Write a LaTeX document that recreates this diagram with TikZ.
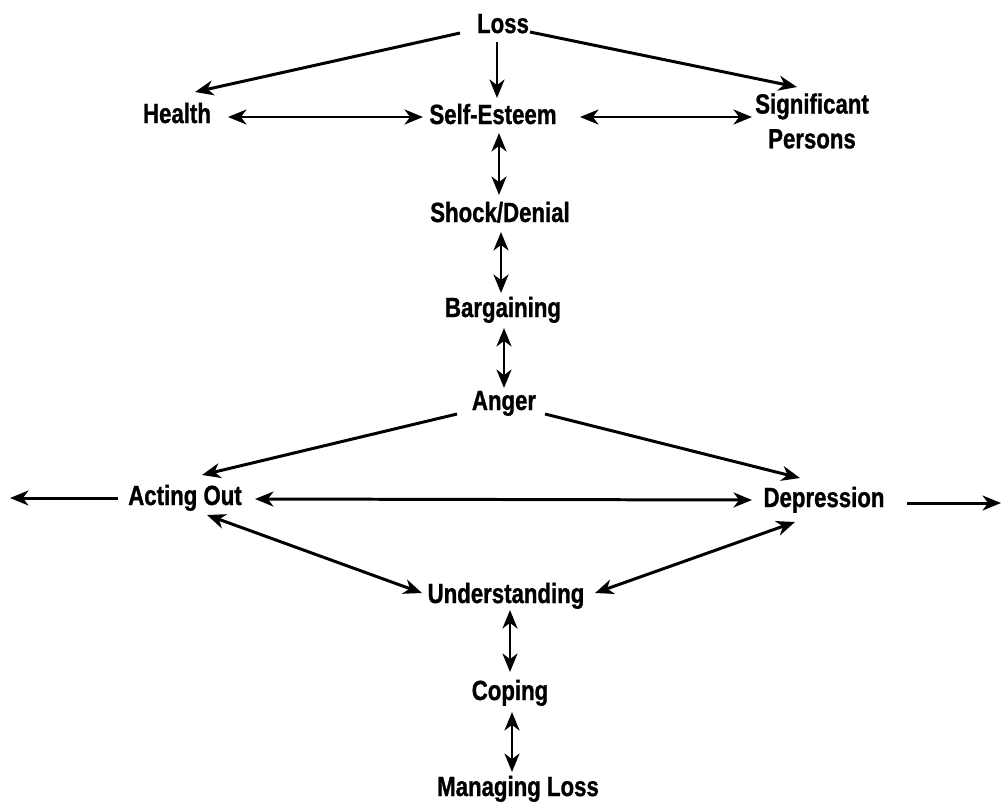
\documentclass[tikz,border=0pt]{standalone}
\usepackage{fontspec}
\setmainfont{Liberation Sans}[FakeStretch=0.8, BoldFeatures={FakeBold=1}]
\usetikzlibrary{arrows.meta,calc}
\begin{document}
\begin{tikzpicture}[x=0.02cm,y=-0.02cm,
  lbl/.style={font=\fontsize{15.8}{19.8}\selectfont\bfseries, inner sep=0pt, anchor=base},
  arr/.style={line width=1.7pt, -{Stealth[length=10.5pt,width=8.5pt,inset=3.2pt]}},
  darr/.style={line width=1.7pt, {Stealth[length=10.5pt,width=8.5pt,inset=3.2pt]}-{Stealth[length=10.5pt,width=8.5pt,inset=3.2pt]}}]
\useasboundingbox[fill=white] (0,0) rectangle (1002,802);
\node[lbl] (loss) at (503,33) {Loss};
\node[lbl] (health) at (177,123) {Health};
\node[lbl] (self) at (493,124) {Self-Esteem};
\node[lbl, anchor=center, align=center] (sig) at (812,121) {Significant\\Persons};
\node[lbl] (shock) at (500,222) {Shock/Denial};
\node[lbl] (barg) at (503,317) {Bargaining};
\node[lbl] (anger) at (504,410) {Anger};
\node[lbl] (act) at (185,505) {Acting Out};
\node[lbl] (dep) at (824,507) {Depression};
\node[lbl] (und) at (506,603) {Understanding};
\node[lbl] (cop) at (510,700) {Coping};
\node[lbl] (man) at (518,796) {Managing Loss};
\coordinate (leftend) at (10,498);
\coordinate (rightend) at (1001,503);

\draw[arr] ($(loss.base)+(-43,0)$) -- ($(health.base)+(18,-31)$);
\draw[arr] ($(loss.base)+(-6,9)$) -- ($(self.base)+(4,-26)$);
\draw[arr] ($(loss.base)+(27,-1)$) -- ($(sig.center)+(-15,-34)$);
\draw[darr] ($(health.base)+(51,-6)$) -- ($(self.base)+(-70,-7)$);
\draw[darr] ($(self.base)+(87,-7)$) -- ($(sig.center)+(-60,-4)$);
\draw[darr] ($(self.base)+(6,9)$) -- ($(shock.base)+(-1,-27)$);
\draw[darr] ($(shock.base)+(1,10)$) -- ($(barg.base)+(-2,-24)$);
\draw[darr] ($(barg.base)+(1,11)$) -- ($(anger.base)+(0,-22)$);
\draw[arr] ($(anger.base)+(-47,4)$) -- ($(act.base)+(17,-30)$);
\draw[arr] ($(anger.base)+(41,4)$) -- ($(dep.base)+(-24,-29)$);
\draw[arr] ($(act.base)+(-67,-7)$) -- (leftend);
\draw[darr] ($(act.base)+(70,-6)$) -- ($(dep.base)+(-72,-7)$);
\draw[arr] ($(dep.base)+(83,-4)$) -- (rightend);
\draw[darr] ($(act.base)+(22,10)$) -- ($(und.base)+(-84,-10)$);
\draw[darr] ($(dep.base)+(-29,15)$) -- ($(und.base)+(89,-10)$);
\draw[darr] ($(und.base)+(4,7)$) -- ($(cop.base)+(0,-28)$);
\draw[darr] ($(cop.base)+(2,12)$) -- ($(man.base)+(-6,-24)$);
\end{tikzpicture}
\end{document}
